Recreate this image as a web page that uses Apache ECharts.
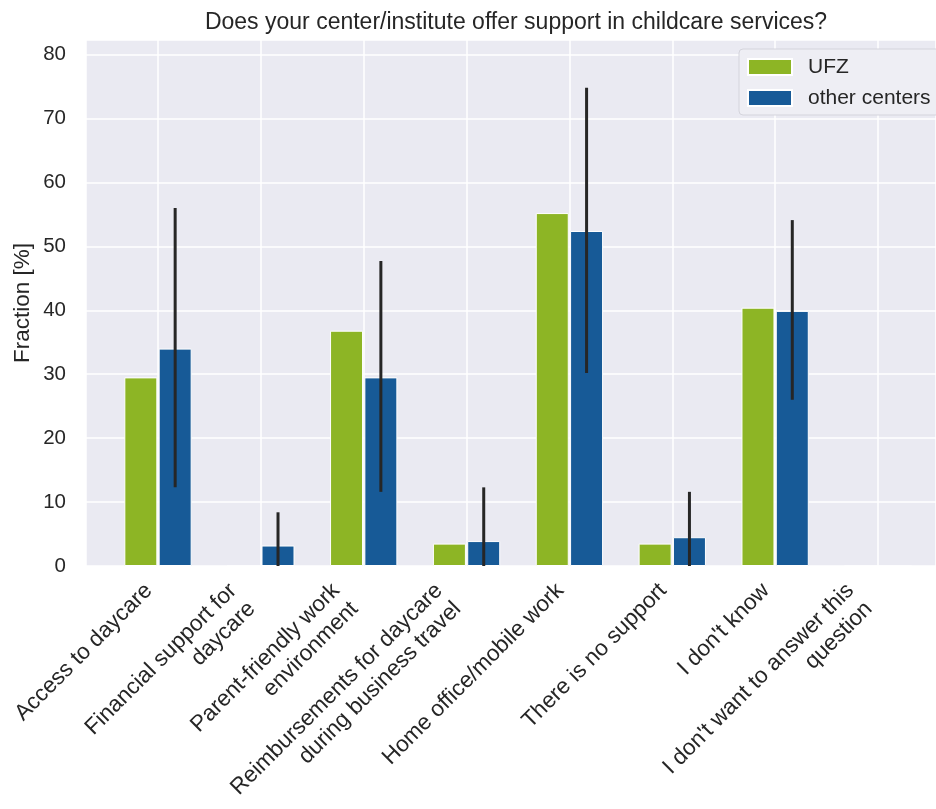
<!DOCTYPE html>
<html>
<head>
<meta charset="utf-8">
<script src="https://cdn.jsdelivr.net/npm/echarts@6/dist/echarts.min.js"></script>
<style>
html, body { margin: 0; padding: 0; background: #fff; }
#chart { width: 936px; height: 809px; }
</style>
</head>
<body>
<div id="chart"></div>
<script>
var categories = [
    'Access to daycare',
    'Financial support for\ndaycare',
    'Parent-friendly work\nenvironment',
    'Reimbursements for daycare\nduring business travel',
    'Home office/mobile work',
    'There is no support',
    "I don't know",
    "I don't want to answer this\nquestion"
];
var ufz = [29.5, 0, 36.8, 3.5, 55.2, 3.5, 40.4, 0];
var otherCenters = [34.0, 3.2, 29.5, 3.9, 52.4, 4.5, 39.9, 0];
var errLow = [12.3, 0, 11.6, 0, 30.2, 0, 26.0, null];
var errHigh = [56.0, 8.4, 47.7, 12.3, 74.8, 11.6, 54.1, null];
var yTicks = [0, 10, 20, 30, 40, 50, 60, 70, 80];

var font = 'Liberation Sans';
var textColor = '#262626';
var barW = 33;
var labelLH = 26;

function pairs(arr) {
    var out = [];
    for (var i = 0; i < arr.length; i++) out.push([i, arr[i]]);
    return out;
}
var errData = [];
for (var i = 0; i < categories.length; i++) {
    if (errLow[i] !== null) errData.push([i, errLow[i], errHigh[i]]);
}

var chart = echarts.init(document.getElementById('chart'));
var option = {
    backgroundColor: '#fff',
    animation: false,
    textStyle: { fontFamily: font },
    title: {
        text: 'Does your center/institute offer support in childcare services?',
        left: 511,
        textAlign: 'center',
        top: 6,
        textStyle: { fontFamily: font, fontSize: 23, fontWeight: 'normal', color: textColor }
    },
    legend: {
        data: ['UFZ', 'other centers'],
        orient: 'vertical',
        left: 739,
        top: 49,
        padding: [7, 20, 6, 8],
        icon: 'rect',
        itemWidth: 44,
        itemHeight: 16,
        itemGap: 9,
        backgroundColor: '#eeeef4',
        borderColor: '#d4d4dc',
        borderWidth: 1,
        borderRadius: 4,
        textStyle: { fontFamily: font, fontSize: 21, color: textColor, padding: [0, 0, 0, 11], lineHeight: 22 }
    },
    grid: {
        left: 86,
        top: 40,
        width: 850,
        height: 526,
        outerBoundsMode: 'none',
        containLabel: false,
        show: true,
        backgroundColor: '#eaeaf2',
        borderWidth: 0
    },
    xAxis: {
        type: 'value',
        min: -0.7,
        max: 7.564,
        minInterval: 1,
        maxInterval: 1,
        splitNumber: 8,
        axisLine: { show: false },
        axisTick: { show: false },
        splitLine: { show: true, lineStyle: { color: '#fff', width: 1.5 } },
        axisLabel: {
            rotate: 45,
            margin: 12,
            color: textColor,
            formatter: function (v) {
                var r = Math.round(v);
                if (Math.abs(v - r) > 1e-6 || r < 0 || r >= categories.length) return '';
                var lines = categories[r].split('\n');
                var g = lines.length === 1 ? 'g1' : 'g2';
                return lines.map(function (l) {
                    return '{t|' + l + '}{' + g + '|}';
                }).join('\n');
            },
            rich: {
                t: { fontFamily: font, fontSize: 22.5, lineHeight: labelLH, color: textColor },
                g1: { width: labelLH / 2, height: labelLH },
                g2: { width: labelLH, height: labelLH }
            }
        }
    },
    yAxis: {
        type: 'value',
        min: 0,
        max: 82.27,
        interval: 10,
        name: 'Fraction [%]',
        nameLocation: 'middle',
        nameGap: 52,
        nameMoveOverlap: false,
        nameTextStyle: { fontFamily: font, fontSize: 22.5, color: textColor },
        axisLine: { show: false },
        axisTick: { show: false },
        splitLine: { show: true, lineStyle: { color: '#fff', width: 1.5 } },
        axisLabel: {
            margin: 20,
            fontFamily: font,
            fontSize: 20.5,
            color: textColor,
            formatter: function (v) {
                var r = Math.round(v);
                return Math.abs(v - r) < 1e-6 && yTicks.indexOf(r) >= 0 ? String(r) : '';
            }
        }
    },
    series: [
        {
            name: 'UFZ',
            type: 'bar',
            barWidth: barW,
            barGap: '4%',
            itemStyle: { color: '#8db525', borderColor: '#fff', borderWidth: 1 },
            data: pairs(ufz)
        },
        {
            name: 'other centers',
            type: 'bar',
            barWidth: barW,
            barGap: '4%',
            itemStyle: { color: '#175a97', borderColor: '#fff', borderWidth: 1 },
            data: pairs(otherCenters)
        },
        {
            name: 'err',
            type: 'custom',
            z: 5,
            silent: true,
            encode: { x: 0, y: [1, 2] },
            data: errData,
            renderItem: function (params, api) {
                var lo = api.coord([api.value(0), api.value(1)]);
                var hi = api.coord([api.value(0), api.value(2)]);
                var off = (barW + barW * 0.04) / 2;
                return {
                    type: 'line',
                    shape: { x1: lo[0] + off, y1: lo[1], x2: hi[0] + off, y2: hi[1] },
                    style: { stroke: '#262626', lineWidth: 3 }
                };
            }
        }
    ]
};
chart.setOption(option);
window.onresize = chart.resize;
</script>
</body>
</html>
